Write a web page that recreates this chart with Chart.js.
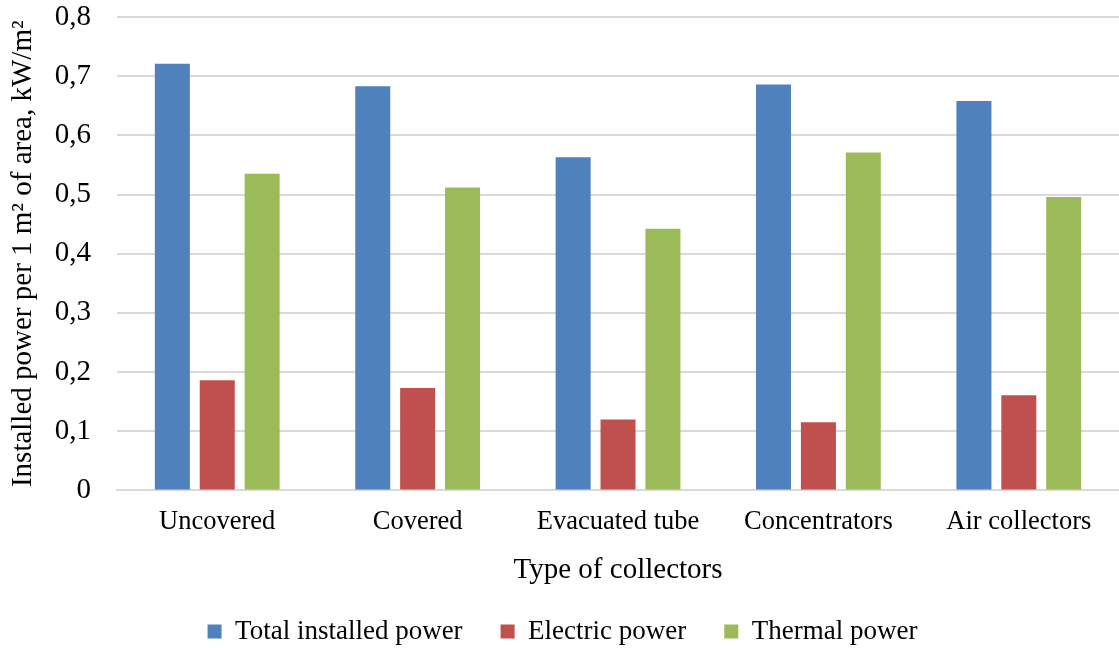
<!DOCTYPE html>
<html>
<head>
<meta charset="utf-8">
<script src="https://cdn.jsdelivr.net/npm/chart.js@4.4.0/dist/chart.umd.min.js"></script>
<style>
    html, body { margin: 0; padding: 0; background: #fff; }
    #chart { display: block; }
</style>
</head>
<body>
<canvas id="chart" width="1119" height="648"></canvas>
<script>
// Collector types along the x axis.
const categories = ['Uncovered', 'Covered', 'Evacuated tube', 'Concentrators', 'Air collectors'];

// Installed power per 1 m2 of area, kW/m2.
const totalPower = [0.721, 0.683, 0.563, 0.686, 0.658];
const electricPower = [0.186, 0.173, 0.120, 0.115, 0.161];
const thermalPower = [0.535, 0.512, 0.442, 0.571, 0.496];

const yTicks = [0, 0.1, 0.2, 0.3, 0.4, 0.5, 0.6, 0.7, 0.8];

const FONT = "'Liberation Serif', 'Times New Roman', serif";

const ctx = document.getElementById('chart').getContext('2d');

new Chart(ctx, {
    type: 'bar',
    data: {
        labels: categories,
        datasets: [
            { label: 'Total installed power', data: totalPower, backgroundColor: '#4F81BD' },
            { label: 'Electric power', data: electricPower, backgroundColor: '#C0504D' },
            { label: 'Thermal power', data: thermalPower, backgroundColor: '#9BBB59' },
        ],
    },
    options: {
        responsive: false,
        animation: false,
        categoryPercentage: 0.672,
        barPercentage: 0.78,
        layout: { padding: { left: 6, right: 0, top: 17, bottom: -7 } },
        plugins: {
            tooltip: { enabled: false },
            legend: {
                position: 'bottom',
                labels: {
                    font: { family: FONT, size: 27 },
                    color: '#000',
                    boxWidth: 14,
                    boxHeight: 14,
                    padding: 38,
                },
            },
        },
        scales: {
            x: {
                grid: { display: false, drawTicks: false },
                border: { display: true, color: '#d9d9d9', width: 2 },
                ticks: {
                    font: { family: FONT, size: 26.5 },
                    color: '#000',
                    padding: 16,
                    maxRotation: 0,
                },
                title: {
                    display: true,
                    text: 'Type of collectors',
                    font: { family: FONT, size: 29 },
                    color: '#000',
                    padding: { top: -1, bottom: -8 },
                },
            },
            y: {
                min: 0,
                max: 0.8,
                afterBuildTicks: (axis) => {
                    axis.ticks = yTicks.map(v => ({ value: v }));
                },
                // let the top gridline sit close to the canvas edge, like the original
                afterFit: (axis) => {
                    axis.paddingTop = 0;
                },
                grid: { color: '#d9d9d9', lineWidth: 2, drawTicks: false },
                border: { display: false },
                ticks: {
                    font: { family: FONT, size: 29 },
                    color: '#000',
                    padding: 26,
                    callback: v => String(Math.round(v * 10) / 10).replace('.', ','),
                },
                title: {
                    display: true,
                    text: 'Installed power per 1 m² of area, kW/m²',
                    font: { family: FONT, size: 29 },
                    color: '#000',
                    padding: { top: 0, bottom: -12 },
                },
            },
        },
    },
});
</script>
</body>
</html>
